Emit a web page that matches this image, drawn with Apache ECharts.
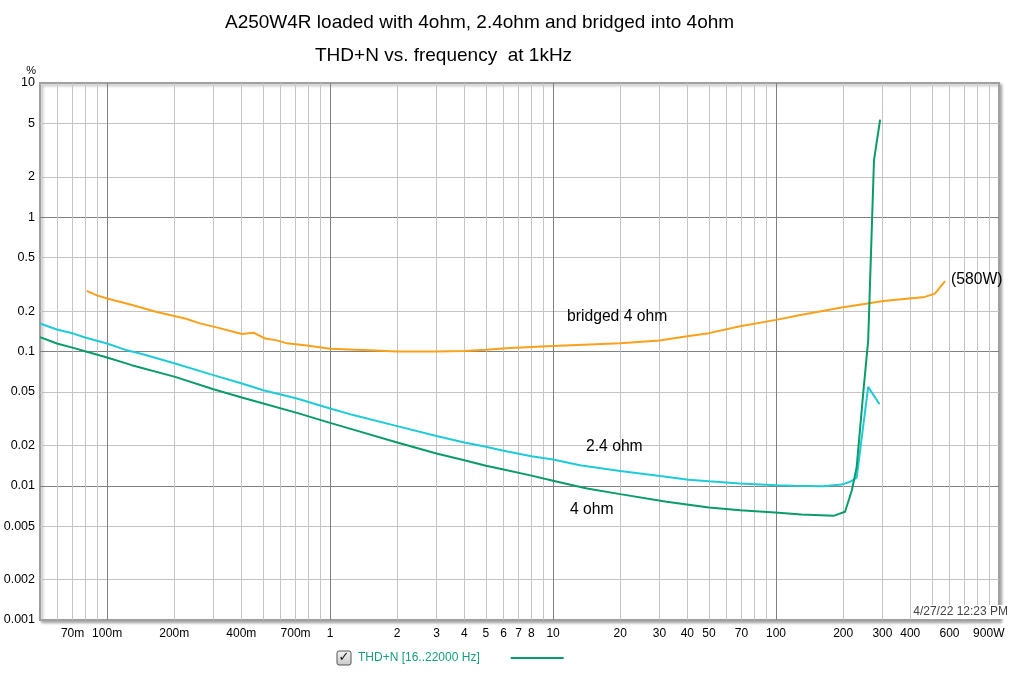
<!DOCTYPE html>
<html>
<head>
<meta charset="utf-8">
<script src="https://cdn.jsdelivr.net/npm/echarts@6/dist/echarts.min.js"></script>
<style>html,body{margin:0;padding:0;background:#fff}#c{width:1024px;height:680px}</style>
</head>
<body>
<div id="c"></div>
<script>
// ---- data (power in W, THD+N in %) ----
const bridgedPower = [0.081, 0.09, 0.1, 0.127, 0.167, 0.224, 0.261, 0.316, 0.402, 0.453, 0.511, 0.577, 0.64, 0.786, 1.0, 1.5, 2.0, 3.0, 4.0, 5.0, 6.4, 8.0, 10, 20, 30, 40, 50, 69, 100, 127, 194, 303, 465, 516, 573];
const bridgedThd   = [0.283, 0.262, 0.248, 0.224, 0.197, 0.176, 0.162, 0.150, 0.135, 0.138, 0.125, 0.121, 0.115, 0.111, 0.105, 0.102, 0.100, 0.100, 0.101, 0.103, 0.106, 0.108, 0.110, 0.115, 0.121, 0.130, 0.137, 0.154, 0.172, 0.186, 0.212, 0.238, 0.255, 0.270, 0.334];

const ohm24Power = [0.05, 0.0595, 0.0706, 0.0796, 0.1, 0.1226, 0.1406, 0.2018, 0.2997, 0.402, 0.502, 0.71, 1.0, 1.27, 2.0, 3.0, 4.0, 5.0, 6.0, 8.0, 10, 13.2, 20, 30.2, 40.5, 50, 69, 100, 120, 163, 197, 215, 230, 259, 291];
const ohm24Thd   = [0.1615, 0.146, 0.136, 0.127, 0.1148, 0.102, 0.0966, 0.0814, 0.0667, 0.0578, 0.0515, 0.0447, 0.0376, 0.0336, 0.0278, 0.0235, 0.0210, 0.0195, 0.0182, 0.0166, 0.0157, 0.0142, 0.0129, 0.0118, 0.0111, 0.0108, 0.0104, 0.0101, 0.0100, 0.0099, 0.0102, 0.0107, 0.0115, 0.0545, 0.0405];

const ohm4Power = [0.05, 0.0595, 0.0706, 0.0796, 0.1, 0.129, 0.2018, 0.2997, 0.402, 0.502, 0.71, 1.0, 1.27, 2.0, 3.0, 4.0, 5.0, 6.0, 8.0, 10, 14.2, 20, 32.3, 50, 69, 99, 130, 181, 204, 219, 230, 246, 259, 275, 293];
const ohm4Thd   = [0.128, 0.1148, 0.1064, 0.1005, 0.0902, 0.0791, 0.0647, 0.0524, 0.0454, 0.041, 0.0349, 0.0294, 0.0262, 0.0210, 0.0174, 0.0155, 0.0141, 0.0132, 0.0119, 0.0109, 0.00955, 0.00866, 0.00759, 0.00689, 0.00657, 0.00632, 0.0061, 0.00597, 0.0064, 0.0093, 0.0138, 0.0487, 0.121, 2.66, 5.34];

// ---- axis ticks ----
const xTickValues = [0.07, 0.1, 0.2, 0.4, 0.7, 1, 2, 3, 4, 5, 6, 7, 8, 10, 20, 30, 40, 50, 70, 100, 200, 300, 400, 600, 900];
const xTickLabels = ['70m', '100m', '200m', '400m', '700m', '1', '2', '3', '4', '5', '6', '7', '8', '10', '20', '30', '40', '50', '70', '100', '200', '300', '400', '600', '900W'];
const xMinorGrid = [0.06, 0.07, 0.08, 0.09, 0.2, 0.3, 0.4, 0.5, 0.6, 0.7, 0.8, 0.9, 2, 3, 4, 5, 6, 7, 8, 9, 20, 30, 40, 50, 60, 70, 80, 90, 200, 300, 400, 500, 600, 700, 800, 900];
const yTickValues = [0.001, 0.002, 0.005, 0.01, 0.02, 0.05, 0.1, 0.2, 0.5, 1, 2, 5, 10];
const yTickLabels = ['0.001', '0.002', '0.005', '0.01', '0.02', '0.05', '0.1', '0.2', '0.5', '1', '2', '5', '10'];
const yMinorGrid = [0.002, 0.005, 0.02, 0.05, 0.2, 0.5, 2, 5];

const X_MIN = 0.05, X_MAX = 1000, Y_MIN = 0.001, Y_MAX = 10;

const FONT = '"Liberation Sans", Arial, sans-serif';
const C_ORANGE = '#f9a11b', C_CYAN = '#1ecbd6', C_GREEN = '#0a9b6c';

function pairs(xs, ys) { return xs.map((x, i) => [x, ys[i]]); }
function labelFor(values, labels) {
  return function (v) {
    const i = values.findIndex(t => Math.abs(Math.log10(t) - v) < 1e-6);
    return i >= 0 ? labels[i] : '';
  };
}

const chart = echarts.init(document.getElementById('c'), null, { renderer: 'canvas' });
chart.setOption({
  animation: false,
  backgroundColor: '#fff',
  title: [
    { text: 'A250W4R loaded with 4ohm, 2.4ohm and bridged into 4ohm', left: 225, top: 13, padding: 0,
      textStyle: { fontSize: 19, fontWeight: 'normal', color: '#000', fontFamily: FONT } },
    { text: 'THD+N vs. frequency  at 1kHz', left: 315, top: 46, padding: 0,
      textStyle: { fontSize: 19, fontWeight: 'normal', color: '#000', fontFamily: FONT } }
  ],
  grid: { left: 40, right: 25, top: 83, bottom: 60, show: true, backgroundColor: '#fff',
          borderColor: '#a0a0a0', borderWidth: 2,
          shadowColor: 'rgba(0,0,0,0.3)', shadowBlur: 3, shadowOffsetX: 2, shadowOffsetY: 2 },
  legend: {
    data: ['THD+N [16..22000 Hz]'], left: 358, top: 652, align: 'right', padding: 0,
    itemWidth: 53, itemHeight: 2, icon: 'rect', selectedMode: false,
    textStyle: { color: '#17a07a', fontSize: 12, fontFamily: FONT, padding: [0, 26, 0, 0] }
  },
  xAxis: [
    { type: 'log', logBase: 10, min: X_MIN, max: X_MAX, gridIndex: 0,
      axisLine: { show: false }, axisTick: { show: false }, axisLabel: { show: false },
      splitLine: { show: true, showMinLine: false, showMaxLine: false, lineStyle: { color: '#808080', width: 1 } } },
    { type: 'value', min: Math.log10(X_MIN), max: Math.log10(X_MAX), gridIndex: 0, position: 'bottom',
      axisLine: { show: false, onZero: false },
      axisTick: { show: false, customValues: xMinorGrid.map(Math.log10) },
      splitLine: { show: true, lineStyle: { color: '#c4c4c4', width: 1 } },
      axisLabel: { show: true, customValues: xTickValues.map(Math.log10), formatter: labelFor(xTickValues, xTickLabels),
                   color: '#000', fontSize: 12, fontFamily: FONT, margin: 8 } }
  ],
  yAxis: [
    { type: 'log', logBase: 10, min: Y_MIN, max: Y_MAX, gridIndex: 0,
      axisLine: { show: false }, axisTick: { show: false }, axisLabel: { show: false },
      splitLine: { show: true, showMinLine: false, showMaxLine: false, lineStyle: { color: '#808080', width: 1 } } },
    { type: 'value', min: Math.log10(Y_MIN), max: Math.log10(Y_MAX), gridIndex: 0, position: 'left',
      name: '%', nameLocation: 'end', nameGap: 4,
      nameTextStyle: { color: '#000', fontSize: 11, fontFamily: FONT, align: 'right', padding: [0, 4, 0, 0] },
      axisLine: { show: false, onZero: false },
      axisTick: { show: false, customValues: yMinorGrid.map(Math.log10) },
      splitLine: { show: true, lineStyle: { color: '#c4c4c4', width: 1 } },
      axisLabel: { show: true, customValues: yTickValues.map(Math.log10), formatter: labelFor(yTickValues, yTickLabels),
                   color: '#000', fontSize: 12.5, fontFamily: FONT, margin: 5 } }
  ],
  series: [
    { name: 'bridged 4 ohm', type: 'line', xAxisIndex: 0, yAxisIndex: 0, showSymbol: false,
      data: pairs(bridgedPower, bridgedThd), lineStyle: { color: C_ORANGE, width: 2 }, itemStyle: { color: C_ORANGE }, z: 3 },
    { name: '2.4 ohm', type: 'line', xAxisIndex: 0, yAxisIndex: 0, showSymbol: false,
      data: pairs(ohm24Power, ohm24Thd), lineStyle: { color: C_CYAN, width: 2 }, itemStyle: { color: C_CYAN }, z: 3 },
    { name: 'THD+N [16..22000 Hz]', type: 'line', xAxisIndex: 0, yAxisIndex: 0, showSymbol: false,
      data: pairs(ohm4Power, ohm4Thd), lineStyle: { color: C_GREEN, width: 2 }, itemStyle: { color: C_GREEN }, z: 4 }
  ],
  graphic: [
    { type: 'text', x: 567, y: 317, z: 50, style: { text: 'bridged 4 ohm', font: '15.7px ' + FONT, fill: '#000', verticalAlign: 'middle' } },
    { type: 'text', x: 586, y: 447, z: 50, style: { text: '2.4 ohm', font: '15.7px ' + FONT, fill: '#000', verticalAlign: 'middle' } },
    { type: 'text', x: 570, y: 510, z: 50, style: { text: '4 ohm', font: '15.7px ' + FONT, fill: '#000', verticalAlign: 'middle' } },
    { type: 'text', x: 951, y: 280, z: 50, style: { text: '(580W)', font: '15.7px ' + FONT, fill: '#000', verticalAlign: 'middle' } },
    { type: 'text', x: 1008, y: 612, z: 100, style: { text: '4/27/22 12:23 PM', font: '12px ' + FONT, fill: '#444',
      align: 'right', verticalAlign: 'middle', backgroundColor: '#fff', padding: [1, 0, 1, 2] } },
    { type: 'group', x: 337, y: 651, children: [
      { type: 'rect', shape: { x: 0, y: 0, width: 14, height: 14, r: 2 },
        style: { fill: new echarts.graphic.LinearGradient(0, 0, 0, 1, [{ offset: 0, color: '#f4f4f4' }, { offset: 1, color: '#c8c8c8' }]),
                 stroke: '#555', lineWidth: 1 } },
      { type: 'text', x: 7, y: 7, style: { text: '✓', font: 'bold 13px "DejaVu Sans", sans-serif', fill: '#111', align: 'center', verticalAlign: 'middle' } }
    ] }
  ]
});
</script>
</body>
</html>
